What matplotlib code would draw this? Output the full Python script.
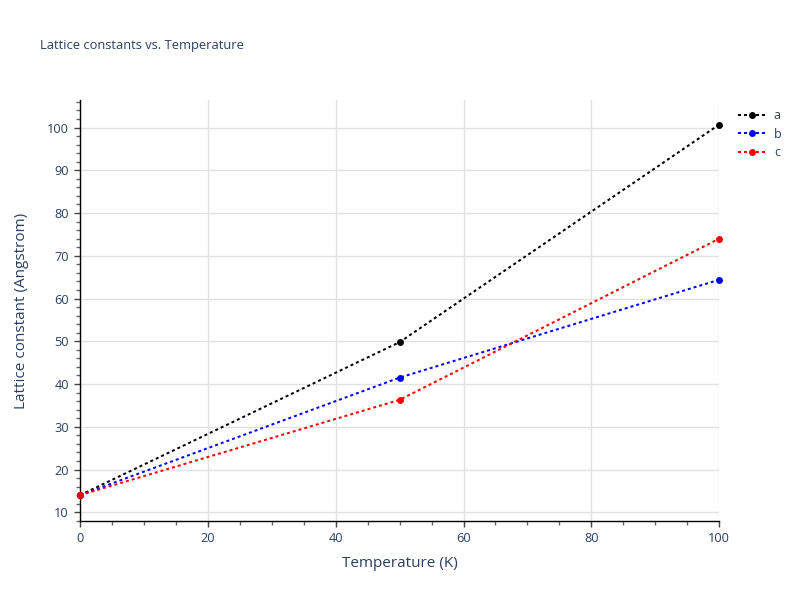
import numpy as np
import matplotlib.pyplot as plt
from matplotlib.ticker import MultipleLocator

# temperatures and lattice constants
temperature = [0, 50, 100]
lattice_a = [14.0, 49.8, 100.7]
lattice_b = [14.0, 41.5, 64.4]
lattice_c = [14.0, 36.3, 74.0]

series_names = ["a", "b", "c"]
series_colors = ["black", "blue", "red"]

text_color = "#2a3f5f"
grid_color = "#e2e2e2"

plt.rcParams['font.family'] = ['Open Sans', 'DejaVu Sans']

fig = plt.figure(figsize=(8, 6), dpi=100)
ax = fig.add_axes([0.1, 0.132, 0.799, 0.701])

for name, color, values in zip(series_names, series_colors, [lattice_a, lattice_b, lattice_c]):
    ax.plot(temperature, values, color=color, linewidth=1.44,
            linestyle=(0, (1.5, 1.5)), dash_capstyle='butt',
            marker='o', markersize=5, markeredgewidth=0,
            label=name, clip_on=False, zorder=3)

ax.set_xlim(0, 100)
ax.set_ylim(8.0, 106.4)

ax.xaxis.set_major_locator(MultipleLocator(20))
ax.xaxis.set_minor_locator(MultipleLocator(5))
ax.yaxis.set_major_locator(MultipleLocator(10))
ax.yaxis.set_minor_locator(MultipleLocator(2))

ax.grid(True, which='major', color=grid_color, linewidth=1.0, zorder=0)
ax.set_axisbelow(True)

for side in ['top', 'right']:
    ax.spines[side].set_visible(False)
for side in ['left', 'bottom']:
    ax.spines[side].set_color('black')
    ax.spines[side].set_linewidth(1.0)

ax.tick_params(which='major', direction='out', length=4, width=1, color='#444444',
               labelsize=9.2, labelcolor=text_color, pad=4)
ax.tick_params(which='minor', direction='out', length=3, width=1, color='#666666')

ax.set_xlabel("Temperature (K)", fontsize=11, color=text_color, labelpad=8)
ax.set_ylabel("Lattice constant (Angstrom)", fontsize=11, color=text_color, labelpad=13)

fig.text(0.05, 0.925, "Lattice constants vs. Temperature", fontsize=9.3,
         color=text_color, ha='left', va='center')

leg = ax.legend(loc='upper left', bbox_to_anchor=(1.015, 1.0), frameon=False,
                fontsize=9, labelcolor=text_color, handlelength=2.3,
                handletextpad=0.6, labelspacing=0.45, borderaxespad=0.3)

plt.savefig('out.png', dpi=100)
